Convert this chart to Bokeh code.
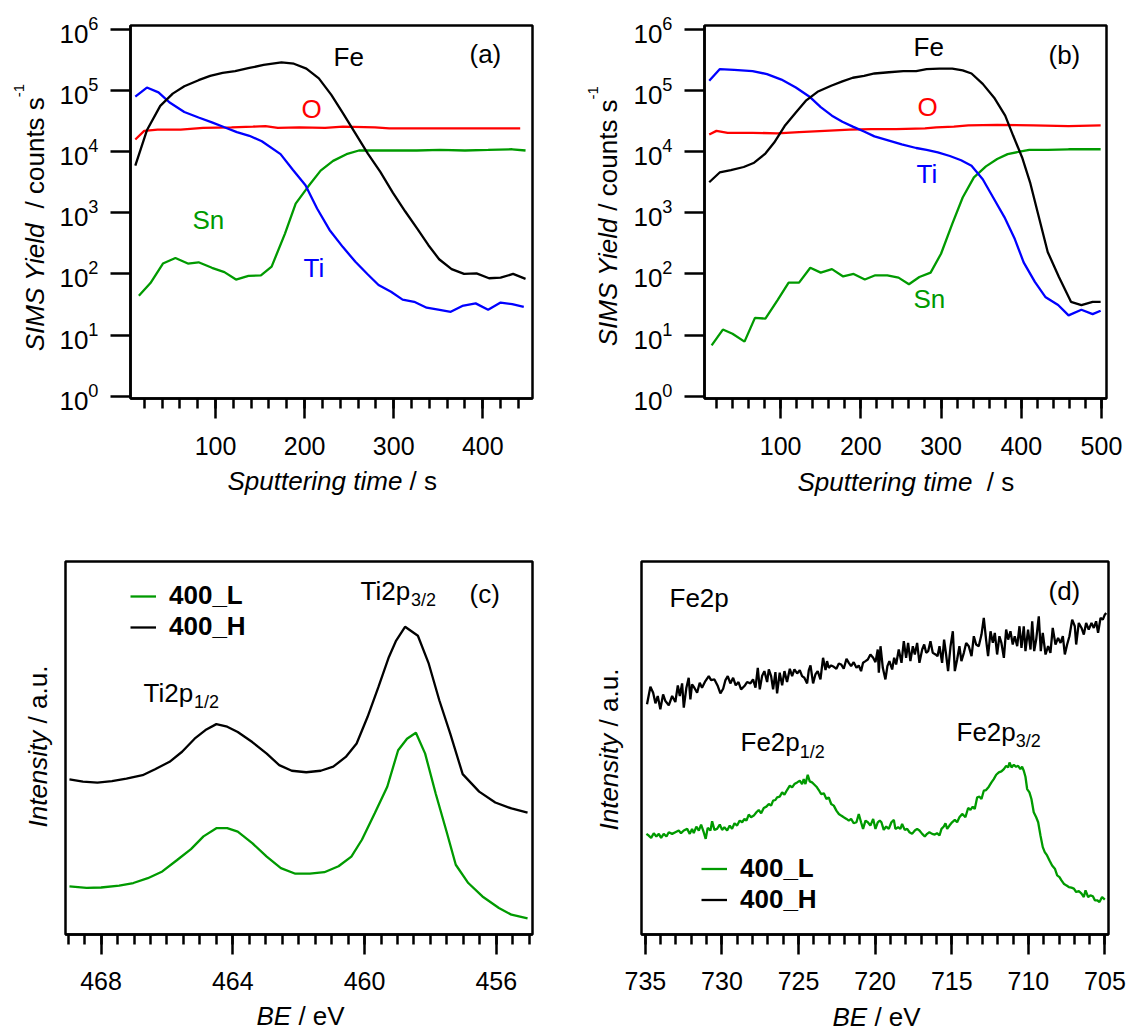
import math
from bokeh.plotting import figure
from bokeh.models import Range1d, FixedTicker, Label, Legend, LegendItem
from bokeh.layouts import row, column
from bokeh.core.properties import value
from bokeh.embed import file_html
from bokeh.resources import INLINE

FONT = "Liberation Sans"
BLACK, BLUE, RED, GREEN = "#000000", "#0000ff", "#ff0000", "#009a00"

# ---------------- (a) SIMS depth profile ----------------
a_fe_t = [10, 23, 38, 52, 65, 81, 94, 108, 122, 138, 154, 174, 188, 202, 216, 230, 243, 257, 271, 285,
          299, 313, 327, 339, 351, 365, 379, 393, 407, 420, 434, 448]
a_fe = [5900, 22400, 56200, 89100, 117500, 147900, 173800, 195000, 208900, 234400, 263000, 288400, 275400,
        229100, 158500, 85100, 42700, 19950, 9330, 4680, 2140, 1050, 537, 295, 174, 120, 100, 102, 85, 87, 100, 83]
a_sn_t = [14, 27, 41, 55, 69, 81, 96, 110, 123, 137, 151, 163, 178, 190, 204, 218, 232, 247, 261, 275,
          300, 326, 352, 380, 406, 433, 448]
a_sn = [44, 71, 148, 182, 148, 155, 126, 107, 81, 93, 95, 132, 457, 1413, 2690, 4900, 7080, 9120, 10470,
        10470, 10470, 10470, 10700, 10470, 10700, 10960, 10470]
a_ti_t = [10, 23, 36, 49, 65, 81, 96, 110, 124, 138, 152, 173, 187, 201, 214, 228, 243, 257, 271, 283,
          297, 310, 323, 337, 350, 364, 377, 392, 406, 420, 433, 446]
a_ti = [79400, 112200, 93300, 63100, 44700, 36300, 30200, 25100, 20900, 18200, 14800, 9120, 5010, 2820,
        1175, 525, 275, 158, 98, 66, 51, 38, 35, 28, 26, 24, 30, 33, 26, 34, 32, 29]
a_o_t = [10, 20, 35, 61, 86, 118, 142, 156, 170, 194, 223, 243, 279, 295, 331, 363, 395, 442]
a_o = [15850, 21900, 22900, 22900, 24500, 25100, 25700, 26300, 24500, 25100, 24500, 25700, 25100, 24000,
       24000, 24000, 24000, 24000]

# ---------------- (b) SIMS depth profile ----------------
b_fe_t = [11, 24, 38, 54, 67, 81, 92, 105, 119, 132, 146, 163, 177, 190, 204, 217, 235, 253, 269, 282,
          298, 314, 327, 338, 352, 367, 380, 390, 401, 411, 421, 433, 447, 462, 475, 489, 499]
b_fe = [3160, 4570, 5010, 5620, 6610, 9330, 14100, 26300, 43700, 69200, 95500, 120200, 141300, 162200,
        173800, 190500, 199500, 208900, 208900, 223900, 229100, 229100, 213800, 190500, 128800, 74100,
        38900, 18200, 8130, 3160, 955, 229, 89, 35, 31, 35, 35]
b_ti_t = [11, 24, 42, 65, 83, 101, 119, 137, 150, 164, 177, 190, 204, 217, 233, 251, 269, 282, 296, 311,
          325, 338, 352, 365, 379, 392, 403, 417, 430, 446, 459, 475, 489, 499]
b_ti = [144500, 223900, 218800, 208900, 186200, 151400, 112200, 77600, 53700, 38900, 30900, 25700, 21400,
        17800, 15500, 13200, 11500, 10700, 9770, 8510, 7240, 5890, 3550, 1780, 851, 372, 155, 74, 42, 31,
        21, 26, 22, 25]
b_sn_t = [14, 28, 40, 55, 68, 81, 96, 110, 123, 137, 150, 164, 178, 191, 205, 218, 233, 247, 260, 273,
          287, 300, 314, 327, 341, 356, 370, 383, 398, 410, 433, 459, 499]
b_sn = [6.8, 12.3, 10.5, 7.8, 19.1, 18.6, 37, 72, 72, 126, 105, 120, 91, 100, 81, 95, 95, 87, 68, 89, 105,
        214, 661, 1780, 3800, 5750, 7590, 9120, 10000, 10700, 10700, 10960, 10960]
b_o_t = [11, 20, 34, 65, 96, 123, 155, 186, 213, 244, 280, 294, 316, 334, 370, 415, 459, 499]
b_o = [19100, 21900, 20400, 20400, 20000, 20900, 21900, 22900, 23400, 23400, 24000, 25100, 25700, 26900,
       27500, 26900, 26300, 26900]

# ---------------- (c) Ti2p XPS ----------------
c_h_be = [468.96, 468.55, 468.11, 467.67, 467.23, 466.74, 466.36, 465.92, 465.54, 465.16, 464.83, 464.50,
          464.17, 463.85, 463.41, 462.97, 462.59, 462.21, 461.77, 461.33, 460.95, 460.57, 460.24, 459.91,
          459.58, 459.26, 459.04, 458.77, 458.38, 458.05, 457.73, 457.40, 457.02, 456.52, 456.03, 455.54,
          455.05]
c_h = [41.6, 41.0, 40.7, 41.1, 41.8, 42.7, 44.3, 46.3, 49.0, 52.5, 54.8, 56.4, 55.7, 54.3, 51.6, 48.5, 45.4,
       43.9, 43.5, 43.9, 45.0, 47.6, 51.2, 58.3, 66.3, 74.4, 78.8, 82.5, 80.1, 72.6, 62.8, 53.9, 43.0, 38.3,
       35.4, 33.8, 32.7]
c_l_be = [468.96, 468.44, 468.00, 467.45, 467.02, 466.58, 466.14, 465.70, 465.27, 464.89, 464.50, 464.17,
          463.85, 463.41, 462.97, 462.54, 462.10, 461.66, 461.22, 460.79, 460.40, 460.08, 459.69, 459.31,
          458.98, 458.71, 458.44, 458.16, 457.84, 457.51, 457.23, 456.85, 456.42, 455.92, 455.54, 455.05]
c_l = [12.9, 12.5, 12.6, 13.1, 13.8, 15.1, 16.9, 19.9, 22.9, 26.3, 28.5, 28.5, 27.6, 24.5, 20.9, 17.8, 16.3,
       16.3, 16.7, 18.3, 20.9, 25.4, 32.5, 39.6, 49.4, 52.5, 54.1, 48.5, 37.8, 27.6, 18.7, 13.8, 10.2, 7.1,
       5.3, 4.3]

# ---------------- (d) Fe2p XPS ----------------
d_h_be = [734.89, 734.67, 734.49, 734.34, 734.19, 734.02, 733.84, 733.69, 733.47, 733.25,
          733.04, 732.88, 732.75, 732.60, 732.49, 732.32, 732.17, 732.06, 731.95, 731.80,
          731.62, 731.45, 731.30, 731.08, 730.86, 730.71, 730.49, 730.27, 730.10, 729.92,
          729.77, 729.62, 729.45, 729.27, 729.10, 728.92, 728.75, 728.53, 728.36, 728.14,
          727.97, 727.81, 727.66, 727.53, 727.38, 727.23, 727.05, 726.94, 726.79, 726.66,
          726.51, 726.40, 726.23, 726.07, 725.92, 725.75, 725.57, 725.42, 725.27, 725.09,
          724.92, 724.77, 724.62, 724.44, 724.33, 724.22, 724.05, 723.90, 723.75, 723.57,
          723.40, 723.24, 723.14, 723.03, 722.87, 722.70, 722.53, 722.37, 722.22, 722.05,
          721.87, 721.72, 721.57, 721.40, 721.22, 721.07, 720.92, 720.79, 720.63, 720.48,
          720.31, 720.13, 719.98, 719.83,
          719.76, 719.65, 719.50, 719.33, 719.20, 719.07, 718.89, 718.76, 718.63,
          718.46, 718.28, 718.13, 717.98, 717.85, 717.70, 717.54, 717.41, 717.26, 717.11,
          716.93, 716.80, 716.67, 716.54, 716.39, 716.24, 716.06, 715.93, 715.80, 715.63,
          715.50, 715.37, 715.24, 715.08, 714.93, 714.80, 714.65, 714.50, 714.37, 714.21,
          714.06, 713.89, 713.71, 713.56, 713.41, 713.24, 713.06, 712.91, 712.76, 712.63,
          712.47, 712.32, 712.19, 712.04, 711.89, 711.76, 711.60, 711.45, 711.32, 711.17,
          711.02, 710.89, 710.73, 710.58, 710.45, 710.30, 710.19, 710.02, 709.86, 709.75,
          709.62, 709.49, 709.32, 709.19, 709.06, 708.88, 708.71, 708.56, 708.41, 708.23,
          708.06, 707.90, 707.75, 707.62, 707.47, 707.32, 707.14, 706.97, 706.88, 706.71,
          706.53, 706.38, 706.23, 706.06, 705.88, 705.73, 705.58, 705.45, 705.29, 705.14,
          705.01, 704.92]
d_h = [61.71, 66.43, 64.83, 61.98, 63.94, 60.37, 64.38, 62.60, 61.44, 63.94,
       62.33, 66.79, 63.94, 67.32, 60.82, 66.16, 68.83, 63.05, 67.05, 66.16,
       64.83, 67.50, 66.16, 67.94, 69.28, 68.21, 68.39, 66.61, 64.65, 65.89,
       68.21, 69.28, 67.32, 68.83, 66.79, 67.68, 65.72, 66.61, 67.68, 67.32,
       68.39, 66.16, 71.50, 65.72, 69.28, 70.61, 67.68, 71.06, 69.28, 65.72,
       70.35, 64.65, 70.17, 66.79, 70.61, 67.68, 71.24, 69.28, 71.06, 69.99,
       70.88, 69.28, 68.83, 67.32, 70.88, 72.13, 67.32, 69.72, 70.61, 68.39,
       74.18, 70.88, 73.29, 71.50, 72.13, 71.77, 71.24, 72.66, 72.40, 71.24,
       73.91, 72.84, 71.95, 73.02, 71.50, 72.13, 70.61, 72.84, 73.29, 73.73,
       75.07, 74.18, 73.02, 76.40,
       70.17, 77.29, 71.50, 68.39, 71.95, 73.29, 71.06, 74.18, 72.40,
       76.40, 72.84, 78.63, 74.18, 78.18, 73.29, 77.29, 75.07, 78.18, 72.84,
       76.40, 77.74, 75.51, 75.96, 78.63, 75.51, 75.07, 74.62, 77.29, 72.84,
       79.07, 75.07, 70.61, 77.29, 81.30, 70.61, 73.73, 77.29, 73.29, 75.51,
       78.18, 77.29, 74.62, 79.96, 77.74, 77.29, 80.41, 84.86, 79.07, 74.62,
       81.30, 78.18, 80.85, 75.07, 79.96, 78.18, 74.18, 81.75, 79.07, 81.30,
       77.74, 79.96, 77.29, 82.64, 76.85, 82.64, 75.96, 81.75, 76.40, 83.97,
       75.96, 79.07, 85.31, 75.96, 80.85, 75.07, 77.29, 75.51, 82.19, 77.74,
       79.52, 78.18, 79.96, 75.07, 77.74, 79.96, 84.42, 82.64, 77.74, 83.53,
       82.19, 80.41, 83.53, 81.75, 83.53, 82.19, 83.97, 80.85, 84.86, 84.42,
       85.75, 86.20]
d_l_be = [734.93, 734.78, 734.62, 734.45, 734.28, 734.12, 733.97, 733.80, 733.62, 733.47,
          733.25, 733.04, 732.82, 732.67, 732.49, 732.27, 732.10, 731.95, 731.84, 731.67,
          731.51, 731.36, 731.19, 731.06, 730.93, 730.75, 730.64, 730.49, 730.32, 730.14,
          729.99, 729.84, 729.66, 729.49, 729.34, 729.18, 729.01, 728.84, 728.68, 728.53,
          728.40, 728.25, 728.10, 727.92, 727.75, 727.60, 727.44, 727.27, 727.10, 726.94,
          726.79, 726.66, 726.51, 726.40, 726.23, 726.07, 725.92, 725.75, 725.57, 725.42,
          725.27, 725.09, 724.92, 724.77, 724.66, 724.55, 724.40, 724.27, 724.12, 724.01,
          723.83, 723.68, 723.53, 723.35, 723.18, 723.03, 722.87, 722.70, 722.53, 722.37,
          722.22, 722.05, 721.87, 721.72, 721.57, 721.40, 721.22, 721.07, 720.92, 720.79,
          720.63, 720.48, 720.31, 720.13, 719.98, 719.83, 719.70,
          719.59, 719.44, 719.28, 719.11, 718.94, 718.78, 718.68,
          718.50, 718.35, 718.24, 718.07, 717.91, 717.76, 717.59, 717.41, 717.26, 717.11,
          716.93, 716.76, 716.61, 716.46, 716.28, 716.11, 715.96, 715.80, 715.67, 715.52,
          715.41, 715.30, 715.15, 714.98, 714.80, 714.65, 714.50, 714.32, 714.21, 714.11,
          713.93, 713.78, 713.63, 713.50, 713.34, 713.19, 713.06, 712.91, 712.76, 712.58,
          712.41, 712.26, 712.10, 711.93, 711.76, 711.60, 711.45, 711.32, 711.23, 711.10,
          710.95, 710.80, 710.67, 710.52, 710.41, 710.30, 710.19, 710.08, 709.93, 709.80,
          709.65, 709.49, 709.36, 709.21, 709.06, 708.93, 708.78, 708.62, 708.45, 708.27,
          708.12, 707.97, 707.84, 707.69, 707.53, 707.36, 707.19, 707.03, 706.88, 706.71,
          706.53, 706.38, 706.27, 706.10, 705.95, 705.79, 705.66, 705.51, 705.36, 705.19,
          705.01]
d_l = [26.98, 26.53, 25.91, 27.16, 26.27, 26.98, 25.91, 26.98, 26.27, 27.42,
       26.98, 27.42, 27.87, 27.16, 27.87, 28.31, 26.98, 28.31, 27.16, 28.94,
       27.87, 29.47, 27.42, 25.64, 28.58, 27.87, 30.36, 28.05, 28.31, 29.47,
       28.05, 28.76, 27.87, 29.20, 28.31, 29.83, 29.20, 30.54, 30.09, 30.99,
       30.54, 32.14, 31.43, 31.88, 32.77, 33.39, 32.50, 33.92, 34.28, 34.99,
       34.55, 35.88, 36.06, 36.77, 36.95, 38.11, 37.49, 38.73, 39.89, 39.44,
       40.34, 40.78, 41.23, 40.34, 41.67, 40.34, 42.83, 41.05, 40.78, 40.34,
       39.62, 38.73, 37.66, 37.84, 36.33, 36.77, 34.99, 34.55, 33.21, 32.32,
       31.88, 31.43, 30.99, 30.54, 30.99, 29.83, 30.09, 32.32, 30.09, 28.31,
       30.54, 30.09, 29.20, 30.99, 28.31, 30.09, 30.54,
       30.09, 28.05, 28.94, 28.31, 30.09, 30.72, 28.31,
       28.76, 28.31, 29.65, 28.05, 28.31, 27.42, 26.98, 27.87, 28.31, 27.87,
       26.98, 26.27, 26.98, 27.42, 26.98, 26.80, 27.16, 26.53, 28.31, 28.94,
       29.83, 28.31, 29.20, 30.09, 30.72, 30.09, 31.43, 32.32, 31.88, 31.43,
       33.92, 33.39, 34.28, 33.66, 36.77, 36.95, 36.33, 38.55, 38.73, 39.62,
       40.78, 41.67, 42.83, 43.45, 43.72, 44.34, 45.23, 44.79, 46.12, 44.79,
       45.50, 44.97, 45.23, 44.34, 44.97, 43.90, 42.29, 39.00, 38.11, 36.33,
       32.77, 31.43, 30.09, 26.53, 23.42, 22.08, 21.19, 19.85, 18.52, 17.63,
       15.85, 15.40, 14.51, 13.62, 13.18, 12.73, 12.55, 12.29, 11.39, 11.66,
       10.95, 10.06, 11.84, 10.06, 10.50, 10.24, 9.17, 9.17, 8.72, 10.06,
       9.35]

# tick definitions
a_xticks = [100, 200, 300, 400]
a_xminor = [20 * i for i in range(1, 23)]
b_xticks = [100, 200, 300, 400, 500]
b_xminor = [20 * i for i in range(1, 26)]
log_ticks = [1, 10, 100, 1000, 10000, 100000, 1000000]
c_xticks = [468, 464, 460, 456]
c_xminor = [455 + 0.5 * i for i in range(29)]
d_xticks = [735, 730, 725, 720, 715, 710, 705]
d_xminor = [705 + i for i in range(31)]

# ---------------- helpers ----------------
WID = {' ': 278, '(': 333, ')': 333, '-': 333, '.': 278, '/': 278, '_': 556,
       'A': 667, 'B': 667, 'E': 667, 'F': 611, 'H': 722, 'I': 278, 'L': 556, 'M': 833, 'O': 778,
       'S': 667, 'T': 611, 'V': 667, 'Y': 667,
       'a': 556, 'b': 556, 'c': 500, 'd': 556, 'e': 556, 'g': 556, 'i': 222, 'l': 222, 'm': 833,
       'n': 556, 'o': 556, 'p': 556, 'r': 333, 's': 500, 't': 278, 'u': 556, 'v': 500, 'y': 500}
K_BASE = 0.37   # baseline -> anchor offset (fraction of font size) for horizontal labels
K_MID = 0.35    # baseline -> middle of the text box (fraction of font size)


def text_w(s, size):
    return sum(WID.get(ch, 556) for ch in s) / 1000.0 * size


class Geo:
    """Maps page pixel positions to the data coordinates of a figure frame."""
    def __init__(self, left, top, fw, fh, x0, x1, y0, y1, ylog):
        self.left, self.top, self.fw, self.fh = left, top, fw, fh
        self.x0, self.x1, self.y0, self.y1, self.ylog = x0, x1, y0, y1, ylog

    def data(self, sx, sy):
        x = self.x0 + (sx - self.left) / self.fw * (self.x1 - self.x0)
        f = (self.top + self.fh - sy) / self.fh
        if self.ylog:
            l0, l1 = math.log10(self.y0), math.log10(self.y1)
            y = 10 ** (l0 + f * (l1 - l0))
        else:
            y = self.y0 + f * (self.y1 - self.y0)
        return x, y


def add_text(p, g, sx, sy, text, size=26, color=BLACK, style="normal"):
    # sx, sy: wanted start of the text on its baseline (page pixels)
    x, y = g.data(sx, sy - K_BASE * size)
    p.add_layout(Label(x=x, y=y, text=text, text_font=FONT, text_font_size=f"{size}px",
                       text_font_style=style, text_color=color, text_align="left",
                       text_baseline="alphabetic"))


def add_vtext(p, g, bx, sy0, text, size, style):
    # vertical text reading upwards: baseline at screen x = bx, starts at screen y = sy0
    w = text_w(text, size)
    cx = bx - K_MID * size
    cy = sy0 - w / 2.0
    x, y = g.data(cx, cy)
    p.add_layout(Label(x=x, y=y, text=text, text_font=FONT, text_font_size=f"{size}px",
                       text_font_style=style, text_color=BLACK, text_align="center",
                       text_baseline="middle", angle=math.pi / 2))


def _split(text):
    stripped = text.lstrip(" ")
    return stripped, (len(text) - len(stripped))


def hrun(p, g, sx, sy, segs):
    for text, style, size, dy in segs:
        t, lead = _split(text)
        sx += lead * 0.278 * size
        add_text(p, g, sx, sy + dy, t, size=size, style=style)
        sx += text_w(t, size)


def vrun(p, g, sx, sy, segs, fix=0.0):
    # fix: measured correction (px) for where rotated labels land in these strips
    sy -= fix
    for text, style, size, raise_ in segs:
        t, lead = _split(text)
        sy -= lead * 0.278 * size
        add_vtext(p, g, sx - raise_, sy, t, size, style)
        sy -= text_w(t, size)


def make_fig(geo, fig_x, fig_y, W, H, ylog, standoff):
    mbl = geo.left - fig_x
    mbt = geo.top - fig_y
    mbr = W - mbl - geo.fw
    mbb = H - mbt - geo.fh
    kw = dict(width=W, height=H, output_backend="svg", toolbar_location=None,
              x_range=Range1d(geo.x0, geo.x1), y_range=Range1d(geo.y0, geo.y1),
              min_border_left=mbl, min_border_right=mbr, min_border_top=mbt, min_border_bottom=mbb,
              background_fill_color="white", border_fill_color="white")
    if ylog:
        kw["y_axis_type"] = "log"
    p = figure(**kw)
    p.xgrid.visible = False
    p.ygrid.visible = False
    p.outline_line_color = BLACK
    p.outline_line_width = 2.5
    for ax in p.axis:
        ax.axis_line_width = 2.5
        ax.axis_line_color = BLACK
        ax.major_tick_line_width = 2.5
        ax.minor_tick_line_width = 2.5
        ax.major_tick_line_color = BLACK
        ax.minor_tick_line_color = BLACK
        ax.major_tick_in = 0
        ax.minor_tick_in = 0
        ax.major_tick_out = 20
        ax.minor_tick_out = 10
        ax.major_label_text_font = FONT
        ax.major_label_text_color = BLACK
    p.xaxis.major_label_text_font_size = "25px"
    p.yaxis.major_label_text_font_size = "26px"
    p.xaxis.major_label_standoff = standoff
    p.yaxis.major_label_standoff = 12
    return p


def title_fig(x0, y0, w, h):
    """A plain strip (frame = whole canvas) that holds axis titles with mixed styles."""
    p = figure(frame_width=w, frame_height=h, output_backend="svg", toolbar_location=None,
               x_range=Range1d(0, w), y_range=Range1d(0, h), min_border=0,
               min_border_left=0, min_border_right=0, min_border_top=0, min_border_bottom=0,
               x_axis_location=None, y_axis_location=None,
               background_fill_color="white", border_fill_color="white")
    p.outline_line_color = None
    p.grid.visible = False
    return p, Geo(x0, y0, w, h, 0, w, 0, h, False)


LW = 2.3
TOP_H = 466      # height of the top row of plots
BOT_Y = 520      # where the lower row starts
BOT_H = 481      # height of the lower row of plots
FIX_TOP = 21     # correction for the rotated titles in the upper strips
FIX_BOT = 38     # correction for the rotated titles in the lower strips

# ---------------- panel (a) ----------------
ga = Geo(130, 25, 402, 374, 4.6, 455.8, 10 ** -0.038, 10 ** 6.065, True)
pa = make_fig(ga, 50, 0, 525, TOP_H, True, 18)
pa.xaxis.ticker = FixedTicker(ticks=a_xticks, minor_ticks=a_xminor)
pa.yaxis.ticker = FixedTicker(ticks=log_ticks, minor_ticks=[])
pa.line(a_o_t, a_o, line_color=RED, line_width=LW)
pa.line(a_sn_t, a_sn, line_color=GREEN, line_width=LW)
pa.line(a_ti_t, a_ti, line_color=BLUE, line_width=LW)
pa.line(a_fe_t, a_fe, line_color=BLACK, line_width=LW)
add_text(pa, ga, 333, 66, "Fe")
add_text(pa, ga, 469, 63, "(a)")
add_text(pa, ga, 301, 118, "O", color=RED)
add_text(pa, ga, 192, 230, "Sn", color=GREEN)
add_text(pa, ga, 303, 278, "Ti", color=BLUE)

# ---------------- panel (b) ----------------
gb = Geo(704, 24, 402, 374, 5.1, 506.3, 10 ** -0.038, 10 ** 6.065, True)
pb = make_fig(gb, 623, 0, 507, TOP_H, True, 18)
pb.xaxis.ticker = FixedTicker(ticks=b_xticks, minor_ticks=b_xminor)
pb.yaxis.ticker = FixedTicker(ticks=log_ticks, minor_ticks=[])
pb.line(b_o_t, b_o, line_color=RED, line_width=LW)
pb.line(b_sn_t, b_sn, line_color=GREEN, line_width=LW)
pb.line(b_ti_t, b_ti, line_color=BLUE, line_width=LW)
pb.line(b_fe_t, b_fe, line_color=BLACK, line_width=LW)
add_text(pb, gb, 913, 55, "Fe")
add_text(pb, gb, 1048, 63, "(b)")
add_text(pb, gb, 917, 115, "O", color=RED)
add_text(pb, gb, 916, 183, "Ti", color=BLUE)
add_text(pb, gb, 913, 308, "Sn", color=GREEN)

# y titles of (a) and (b)
yta, gyta = title_fig(0, 0, 50, TOP_H)
vrun(yta, gyta, 44, 347, [("SIMS Yield", "italic", 26, 0), ("  / counts s", "normal", 26, 0),
                          ("-1", "normal", 15, 20)], FIX_TOP)
ytb, gytb = title_fig(575, 0, 48, TOP_H)
vrun(ytb, gytb, 617, 342, [("SIMS Yield", "italic", 26, 0), (" / counts s", "normal", 26, 0),
                           ("-1", "normal", 15, 19)], FIX_TOP)
# x titles of (a) and (b)
xtt, gxtt = title_fig(0, TOP_H, 1130, BOT_Y - TOP_H)
hrun(xtt, gxtt, 227, 490, [("Sputtering time", "italic", 26, 0), (" / s", "normal", 26, 0)])
hrun(xtt, gxtt, 797, 491, [("Sputtering time", "italic", 26, 0), ("  / s", "normal", 26, 0)])


def add_legend(p, r_l, r_h, loc, gh):
    leg = Legend(items=[LegendItem(label=value("400_L"), renderers=[r_l]),
                        LegendItem(label=value("400_H"), renderers=[r_h])],
                 location=loc, orientation="vertical", padding=0, margin=0, spacing=0,
                 glyph_width=26, glyph_height=gh, label_height=gh, label_standoff=13,
                 label_text_font=FONT, label_text_font_style="bold", label_text_font_size="26px",
                 label_text_color=BLACK, border_line_color=None, background_fill_alpha=0)
    p.add_layout(leg)


# ---------------- panel (c) ----------------
gc = Geo(65, 561, 467, 374, 469.08, 454.9, 0, 100, False)
pc = make_fig(gc, 56, BOT_Y, 509, BOT_H, False, 17)
pc.yaxis.visible = False
pc.xaxis.ticker = FixedTicker(ticks=c_xticks, minor_ticks=c_xminor)
rc_h = pc.line(c_h_be, c_h, line_color=BLACK, line_width=LW)
rc_l = pc.line(c_l_be, c_l, line_color=GREEN, line_width=LW)
add_legend(pc, rc_l, rc_h, (65, 292), 30)
add_text(pc, gc, 360, 600, "Ti2p")
add_text(pc, gc, 360 + text_w("Ti2p", 26), 606.5, "3/2", size=18)
add_text(pc, gc, 469, 603, "(c)")
add_text(pc, gc, 143, 702, "Ti2p")
add_text(pc, gc, 143 + text_w("Ti2p", 26), 709, "1/2", size=18)

# ---------------- panel (d) ----------------
gd = Geo(641, 559, 467, 375, 735.25, 704.77, 0, 100, False)
pd_ = make_fig(gd, 624, BOT_Y, 506, BOT_H, False, 17)
pd_.yaxis.visible = False
pd_.xaxis.ticker = FixedTicker(ticks=d_xticks, minor_ticks=d_xminor)
rd_h = pd_.line(d_h_be, d_h, line_color=BLACK, line_width=LW)
rd_l = pd_.line(d_l_be, d_l, line_color=GREEN, line_width=LW)
add_legend(pd_, rd_l, rd_h, (60, 19), 31)
add_text(pd_, gd, 669, 605, "Fe2p")
add_text(pd_, gd, 1048, 598, "(d)")
add_text(pd_, gd, 740, 750, "Fe2p")
add_text(pd_, gd, 740 + text_w("Fe2p", 26), 757, "1/2", size=18)
add_text(pd_, gd, 956, 740, "Fe2p")
add_text(pd_, gd, 956 + text_w("Fe2p", 26), 746, "3/2", size=18)

# y titles of (c) and (d)
ytc, gytc = title_fig(0, BOT_Y, 56, BOT_H)
vrun(ytc, gytc, 47, 824, [("Intensity", "italic", 26, 0), (" / a.u.", "normal", 26, 0)], FIX_BOT)
ytd, gytd = title_fig(565, BOT_Y, 59, BOT_H)
vrun(ytd, gytd, 618, 827, [("Intensity", "italic", 26, 0), (" / a.u.", "normal", 26, 0)], FIX_BOT)
# x titles of (c) and (d)
xtb, gxtb = title_fig(0, BOT_Y + BOT_H, 1130, 1032 - BOT_Y - BOT_H)
hrun(xtb, gxtb, 256, 1025, [("BE", "italic", 26, 0), (" / eV", "normal", 26, 0)])
hrun(xtb, gxtb, 832, 1026, [("BE", "italic", 26, 0), (" / eV", "normal", 26, 0)])

layout = column(row(yta, pa, ytb, pb), xtt, row(ytc, pc, ytd, pd_), xtb)
open("out.html", "w").write(file_html(layout, INLINE))
